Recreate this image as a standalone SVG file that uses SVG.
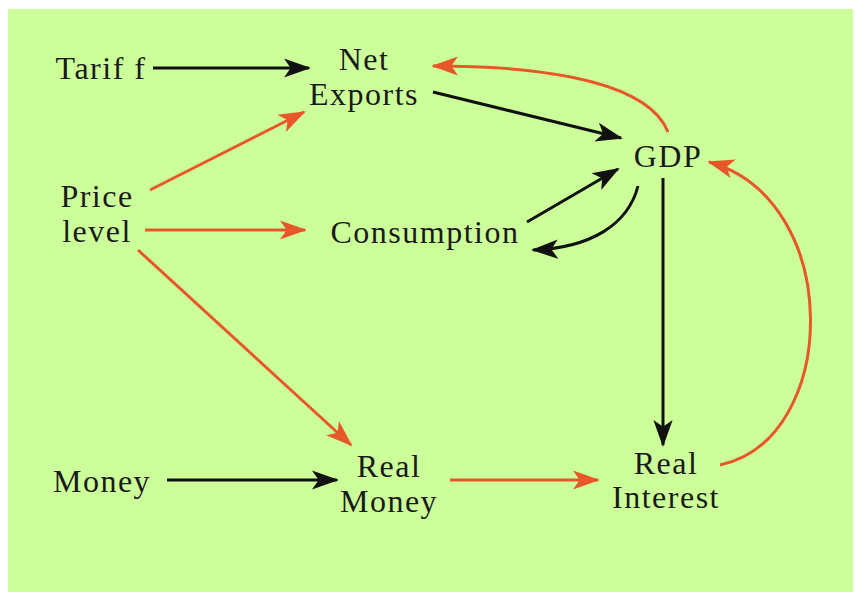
<svg xmlns="http://www.w3.org/2000/svg" width="855" height="593" viewBox="0 0 855 593">
<style>
text{font-family:"Liberation Serif","Times New Roman",serif;font-size:32px;fill:#1a1a1a;text-anchor:middle;letter-spacing:1.5px}
.k{stroke:#111;stroke-width:3;fill:none}
.o{stroke:#e8572a;stroke-width:3;fill:none}
</style>
<defs>
<marker id="ak" viewBox="0 0 14 10" refX="13" refY="5" markerWidth="9" markerHeight="7" markerUnits="strokeWidth" orient="auto">
<path d="M0,0 L14,5 L0,10 L3.5,5 z" fill="#111"/>
</marker>
<marker id="ao" viewBox="0 0 14 10" refX="13" refY="5" markerWidth="9" markerHeight="7" markerUnits="strokeWidth" orient="auto">
<path d="M0,0 L14,5 L0,10 L3.5,5 z" fill="#e8572a"/>
</marker>
</defs>
<rect x="0" y="0" width="855" height="593" fill="#fff"/>
<rect x="8" y="9" width="845" height="583" fill="#ccff99"/>
<g id="connectors">
<line class="k" x1="153" y1="68" x2="309" y2="68" marker-end="url(#ak)"/>
<line class="k" x1="433" y1="92" x2="621" y2="138" marker-end="url(#ak)"/>
<path class="o" d="M668,132 C650,86 560,66 433,66" marker-end="url(#ao)"/>
<line class="o" x1="150" y1="190" x2="304" y2="112" marker-end="url(#ao)"/>
<line class="o" x1="145" y1="230" x2="305" y2="230" marker-end="url(#ao)"/>
<line class="o" x1="138" y1="250" x2="351" y2="445" marker-end="url(#ao)"/>
<line class="k" x1="527" y1="222" x2="618" y2="169" marker-end="url(#ak)"/>
<path class="k" d="M638,186 C628,225 590,248 533,250" marker-end="url(#ak)"/>
<line class="k" x1="663" y1="178" x2="663" y2="445" marker-end="url(#ak)"/>
<path class="o" d="M720,465 C840,440 845,200 709,162" marker-end="url(#ao)"/>
<line class="k" x1="167" y1="480" x2="337" y2="480" marker-end="url(#ak)"/>
<line class="o" x1="450" y1="480" x2="598" y2="480" marker-end="url(#ao)"/>
</g>
<g id="tariff"><text x="101" y="79">Tarif f</text></g>
<g id="netexports"><text x="364" y="70">Net</text><text x="364" y="105">Exports</text></g>
<g id="gdp"><text x="668" y="167">GDP</text></g>
<g id="pricelevel"><text x="97" y="207">Price</text><text x="97" y="242">level</text></g>
<g id="consumption"><text x="425" y="243">Consumption</text></g>
<g id="money"><text x="102" y="492">Money</text></g>
<g id="realmoney"><text x="389" y="477">Real</text><text x="389" y="512">Money</text></g>
<g id="realinterest"><text x="666" y="474">Real</text><text x="666" y="508">Interest</text></g>
</svg>
